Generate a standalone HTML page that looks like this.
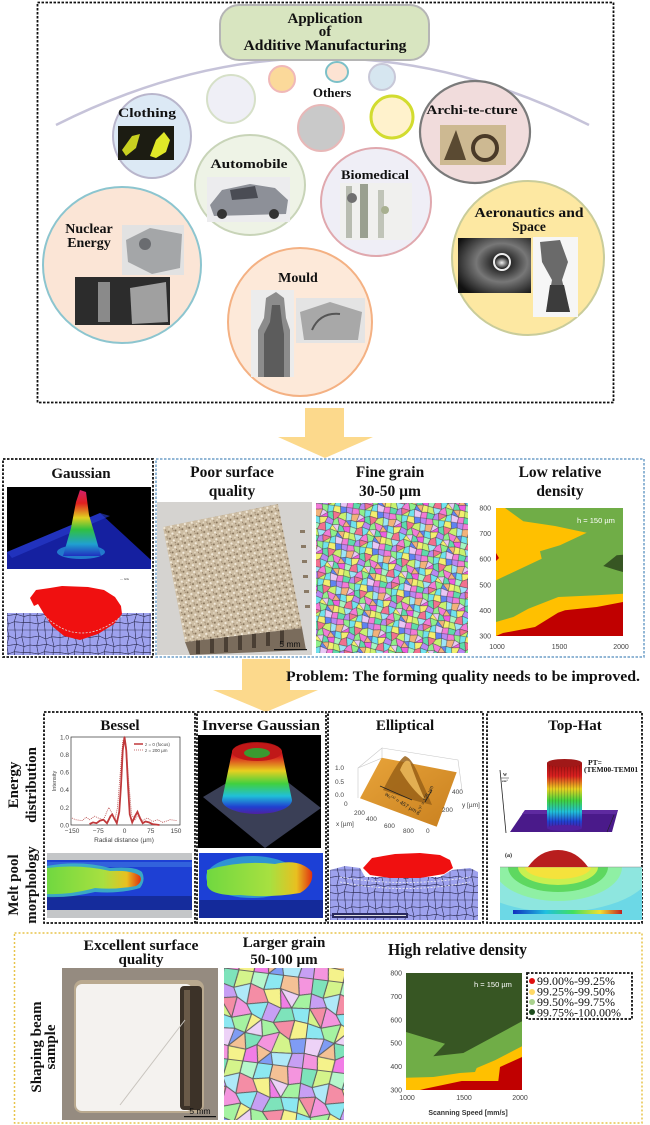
<!DOCTYPE html>
<html><head><meta charset="utf-8">
<style>
html,body{margin:0;padding:0;background:#fff;}
svg{display:block;}
.t{font-family:"Liberation Serif",serif;font-weight:bold;fill:#111;}
.s{font-family:"Liberation Sans",sans-serif;fill:#444;}
</style></head>
<body>
<svg width="650" height="1125" viewBox="0 0 650 1125" xmlns="http://www.w3.org/2000/svg">
<defs>
  <g id="gt" stroke="#333" stroke-width="0.6">
    <polygon points="0,0 10,0 12,8 0,10" fill="#f27ad6"/>
    <polygon points="10,0 20,0 21,12 12,8" fill="#8ef08a"/>
    <polygon points="20,0 30,0 29,9 21,12" fill="#6fe3ee"/>
    <polygon points="30,0 40,0 42,11 29,9" fill="#f3ef6e"/>
    <polygon points="40,0 50,0 51,8 42,11" fill="#5f83f2"/>
    <polygon points="50,0 60,0 60,10 51,8" fill="#b987f2"/>
    <polygon points="0,10 12,8 9,21 0,20" fill="#f2b27a"/>
    <polygon points="12,8 21,12 9,21" fill="#e9c7f5"/>
    <polygon points="21,12 22,19 9,21" fill="#ee5ce0"/>
    <polygon points="21,12 29,9 32,23 22,19" fill="#5ddcaa"/>
    <polygon points="29,9 42,11 38,18 32,23" fill="#f2708f"/>
    <polygon points="42,11 51,8 52,22 38,18" fill="#c9f26e"/>
    <polygon points="51,8 60,10 60,20 52,22" fill="#9be4f7"/>
    <polygon points="0,20 9,21 11,32 0,30" fill="#6fe3ee"/>
    <polygon points="9,21 22,19 19,28 11,32" fill="#f3ef6e"/>
    <polygon points="22,19 32,23 31,31 19,28" fill="#b987f2"/>
    <polygon points="32,23 38,18 42,29 31,31" fill="#8ef08a"/>
    <polygon points="38,18 52,22 48,32 42,29" fill="#f27ad6"/>
    <polygon points="52,22 60,20 60,30" fill="#5f83f2"/>
    <polygon points="52,22 60,30 48,32" fill="#f2b27a"/>
    <polygon points="0,30 11,32 8,41 0,40" fill="#a4f5c0"/>
    <polygon points="11,32 19,28 22,42 8,41" fill="#f2708f"/>
    <polygon points="19,28 31,31 28,38 22,42" fill="#6fe3ee"/>
    <polygon points="31,31 42,29 41,41" fill="#e9c7f5"/>
    <polygon points="31,31 41,41 28,38" fill="#f3ef6e"/>
    <polygon points="42,29 48,32 52,39 41,41" fill="#5ddcaa"/>
    <polygon points="48,32 60,30 60,40 52,39" fill="#ee5ce0"/>
    <polygon points="0,40 8,41 12,52 0,50" fill="#c9f26e"/>
    <polygon points="8,41 22,42 18,49 12,52" fill="#9be4f7"/>
    <polygon points="22,42 28,38 32,51 18,49" fill="#f27ad6"/>
    <polygon points="28,38 41,41 39,48 32,51" fill="#8ef08a"/>
    <polygon points="41,41 52,39 51,51" fill="#f2b27a"/>
    <polygon points="41,41 51,51 39,48" fill="#5f83f2"/>
    <polygon points="52,39 60,40 60,50 51,51" fill="#f3ef6e"/>
    <polygon points="0,50 12,52 10,60 0,60" fill="#5ddcaa"/>
    <polygon points="12,52 18,49 20,60 10,60" fill="#b987f2"/>
    <polygon points="18,49 32,51 20,60" fill="#f2708f"/>
    <polygon points="32,51 30,60 20,60" fill="#c9f26e"/>
    <polygon points="32,51 39,48 40,60 30,60" fill="#6fe3ee"/>
    <polygon points="39,48 51,51 50,60 40,60" fill="#e9c7f5"/>
    <polygon points="51,51 60,50 60,60 50,60" fill="#f27ad6"/>
  </g>
  <g id="gline" fill="none" stroke="#2a2a50" stroke-width="0.6">
    <polygon points="0,0 10,0 12,8 0,10"/><polygon points="10,0 20,0 21,12 12,8"/>
    <polygon points="20,0 30,0 29,9 21,12"/><polygon points="30,0 40,0 40,10 29,9"/>
    <polygon points="0,10 12,8 9,21 0,20"/><polygon points="12,8 21,12 22,19 9,21"/>
    <polygon points="21,12 29,9 32,22 22,19"/><polygon points="29,9 40,10 40,20 32,22"/>
    <polygon points="0,20 9,21 11,32 0,30"/><polygon points="9,21 22,19 19,29 11,32"/>
    <polygon points="22,19 32,22 31,30 19,29"/><polygon points="32,22 40,20 40,30 31,30"/>
    <polygon points="0,30 11,32 10,40 0,40"/><polygon points="11,32 19,29 20,40 10,40"/>
    <polygon points="19,29 31,30 30,40 20,40"/><polygon points="31,30 40,30 40,40 30,40"/>
  </g>
  <pattern id="gFine" patternUnits="userSpaceOnUse" width="60" height="60" patternTransform="translate(316,503) rotate(8) scale(0.62)">
    <use href="#gt"/>
  </pattern>
  <pattern id="gLarge" patternUnits="userSpaceOnUse" width="60" height="60" patternTransform="translate(224,968) rotate(97) scale(1.5)">
    <use href="#gt" opacity="0.8"/>
  </pattern>
  <pattern id="lav" patternUnits="userSpaceOnUse" width="40" height="40" patternTransform="scale(0.75)">
    <rect width="40" height="40" fill="#9ea2ee"/><use href="#gline"/>
  </pattern>
  <pattern id="speck" patternUnits="userSpaceOnUse" width="7" height="7" patternTransform="rotate(-11)">
    <rect width="7" height="7" fill="#cdbda3"/>
    <circle cx="1" cy="1.2" r="1" fill="#85725a"/>
    <circle cx="4.5" cy="3.6" r="1.1" fill="#f2eadb"/>
    <circle cx="5.8" cy="0.8" r="0.6" fill="#9a8468"/>
    <circle cx="2" cy="5.5" r="0.8" fill="#ece0cc"/>
    <circle cx="5.5" cy="6" r="0.6" fill="#8a7660"/>
  </pattern>
  <pattern id="stripes" patternUnits="userSpaceOnUse" width="3" height="10">
    <rect x="0" width="0.8" height="10" fill="rgba(0,0,0,0.18)"/>
  </pattern>
  <linearGradient id="rainbow" x1="0" y1="0" x2="0" y2="1">
    <stop offset="0" stop-color="#d2206a"/>
    <stop offset="0.2" stop-color="#e02020"/>
    <stop offset="0.42" stop-color="#e0d020"/>
    <stop offset="0.6" stop-color="#30c040"/>
    <stop offset="0.82" stop-color="#20a0d0"/>
    <stop offset="1" stop-color="#2030c0"/>
  </linearGradient>
  <linearGradient id="rainbow2" x1="0" y1="0" x2="0" y2="1">
    <stop offset="0" stop-color="#a01010"/>
    <stop offset="0.2" stop-color="#d82020"/>
    <stop offset="0.4" stop-color="#e8d020"/>
    <stop offset="0.58" stop-color="#40d040"/>
    <stop offset="0.75" stop-color="#20c0d8"/>
    <stop offset="0.9" stop-color="#2040d0"/>
    <stop offset="1" stop-color="#5020a0"/>
  </linearGradient>
  <linearGradient id="hbar" x1="0" y1="0" x2="1" y2="0">
    <stop offset="0" stop-color="#1030c0"/>
    <stop offset="0.3" stop-color="#20c0e0"/>
    <stop offset="0.55" stop-color="#40e060"/>
    <stop offset="0.8" stop-color="#f0e030"/>
    <stop offset="1" stop-color="#c02020"/>
  </linearGradient>
  <linearGradient id="blob" x1="0" y1="0" x2="1" y2="0">
    <stop offset="0" stop-color="#70d840"/>
    <stop offset="0.6" stop-color="#a8e040"/>
    <stop offset="0.85" stop-color="#e8c020"/>
    <stop offset="1" stop-color="#e03010"/>
  </linearGradient>
  <linearGradient id="plate" x1="0" y1="0" x2="1" y2="1">
    <stop offset="0" stop-color="#e8a43a"/>
    <stop offset="1" stop-color="#c9801f"/>
  </linearGradient>
  <radialGradient id="fan" cx="0.6" cy="0.45" r="0.7">
    <stop offset="0" stop-color="#f0f0f0"/>
    <stop offset="0.15" stop-color="#222"/>
    <stop offset="0.5" stop-color="#777"/>
    <stop offset="1" stop-color="#111"/>
  </radialGradient>
  <clipPath id="thclip"><rect x="500" y="867" width="142" height="53"/></clipPath>
</defs>

<!-- ===== SECTION 1 ===== -->
<rect x="37.5" y="2.5" width="576" height="400" fill="none" stroke="#111" stroke-width="1.8" stroke-dasharray="2.5,1.5"/>
<path d="M56,125 Q322,-9 589,125" fill="none" stroke="#c6c3d9" stroke-width="2.5"/>
<rect x="220" y="5" width="209" height="55" rx="19" fill="#d8e5c0" stroke="#b5b5b5" stroke-width="2"/>
<text class="t" x="325" y="23" font-size="15" text-anchor="middle">Application</text>
<text class="t" x="325" y="36" font-size="15" text-anchor="middle">of</text>
<text class="t" x="325" y="50" font-size="15" text-anchor="middle" textLength="163" lengthAdjust="spacingAndGlyphs">Additive Manufacturing</text>

<ellipse cx="231" cy="99" rx="24" ry="24" fill="#efeff6" stroke="#d6e0c8" stroke-width="2"/>
<ellipse cx="282" cy="79" rx="13" ry="13" fill="#fbd99a" stroke="#f0b8b8" stroke-width="2"/>
<ellipse cx="337" cy="72" rx="11" ry="10" fill="#fde3d3" stroke="#7cc0c8" stroke-width="2"/>
<ellipse cx="382" cy="77" rx="13" ry="13" fill="#d6e6f0" stroke="#c8c8d8" stroke-width="2"/>
<ellipse cx="321" cy="128" rx="23" ry="23" fill="#c9c9c9" stroke="#e8b8b8" stroke-width="2"/>
<ellipse cx="392" cy="117" rx="21" ry="21" fill="#fff2cc" stroke="#d2dc30" stroke-width="3"/>
<text class="t" x="332" y="97" font-size="13" text-anchor="middle">Others</text>

<ellipse cx="152" cy="136" rx="39" ry="42" fill="#dce9f5" stroke="#b9b6cc" stroke-width="2"/>
<text class="t" x="147" y="117" font-size="13" text-anchor="middle" textLength="58" lengthAdjust="spacingAndGlyphs">Clothing</text>
<rect x="118" y="126" width="56" height="34" fill="#1c1c12"/>
<polygon points="122,150 132,136 140,134 136,148 126,156" fill="#c8d020"/>
<polygon points="150,156 156,140 164,132 170,140 166,152 156,158" fill="#e0e828"/>

<ellipse cx="250" cy="185" rx="55" ry="50" fill="#eef3e6" stroke="#c8d4b8" stroke-width="2"/>
<text class="t" x="249" y="168" font-size="13" text-anchor="middle" textLength="77" lengthAdjust="spacingAndGlyphs">Automobile</text>
<rect x="207" y="177" width="83" height="45" fill="#ececee"/>
<path d="M210,205 L222,190 L250,184 L275,188 L288,200 L286,214 L214,216 Z" fill="#8d9098"/>
<path d="M230,190 L255,186 L258,198 L232,200 Z" fill="#4a4c54"/>
<circle cx="222" cy="214" r="5" fill="#333"/><circle cx="274" cy="214" r="5" fill="#333"/>

<ellipse cx="376" cy="202" rx="55" ry="54" fill="#efeef6" stroke="#e0a8ae" stroke-width="2"/>
<text class="t" x="375" y="179" font-size="13" text-anchor="middle" textLength="68" lengthAdjust="spacingAndGlyphs">Biomedical</text>
<rect x="340" y="183" width="72" height="57" fill="#f0f0ee"/>
<rect x="346" y="186" width="6" height="52" fill="#b8bcb0"/>
<rect x="360" y="184" width="8" height="54" fill="#9aa090"/>
<rect x="378" y="190" width="6" height="48" fill="#c0c4b8"/>
<circle cx="352" cy="198" r="5" fill="#707070"/>
<circle cx="385" cy="210" r="4" fill="#a8b090"/>

<ellipse cx="475" cy="132" rx="55" ry="51" fill="#f1dcdc" stroke="#7a7a7a" stroke-width="2.2"/>
<text class="t" x="472" y="114" font-size="13" text-anchor="middle" textLength="91" lengthAdjust="spacingAndGlyphs">Archi-te-cture</text>
<rect x="440" y="125" width="66" height="40" fill="#cdb992"/>
<polygon points="444,160 456,130 466,160" fill="#5a4a32"/>
<circle cx="485" cy="148" r="12" fill="none" stroke="#4a3a28" stroke-width="4"/>

<ellipse cx="122" cy="265" rx="79" ry="78" fill="#fbe5d6" stroke="#8cc5cf" stroke-width="2"/>
<text class="t" x="89" y="233" font-size="14" text-anchor="middle">Nuclear</text>
<text class="t" x="89" y="247" font-size="14" text-anchor="middle">Energy</text>
<rect x="122" y="225" width="62" height="50" fill="#e2e2e2"/>
<polygon points="126,240 150,228 182,234 180,268 152,274 128,262" fill="#a4a6a8"/>
<circle cx="145" cy="244" r="6" fill="#6a6c70"/>
<rect x="75" y="277" width="95" height="48" fill="#2c2c2c"/>
<rect x="98" y="282" width="12" height="40" fill="#8a8a8a"/>
<polygon points="130,288 166,282 168,322 132,324" fill="#a0a0a0"/>

<ellipse cx="300" cy="322" rx="72" ry="74" fill="#fde9d9" stroke="#f4b183" stroke-width="2"/>
<text class="t" x="298" y="282" font-size="14" text-anchor="middle">Mould</text>
<rect x="251" y="290" width="43" height="87" fill="#ececec"/>
<path d="M258,377 L258,330 L264,318 L266,298 L276,292 L284,298 L286,318 L290,330 L290,377 Z" fill="#8c8c8c"/>
<path d="M264,377 L264,334 L270,322 L272,305 L280,305 L282,322 L284,334 L284,377 Z" fill="#5c5c5c"/>
<rect x="296" y="298" width="69" height="45" fill="#e4e4e4"/>
<polygon points="300,312 330,302 362,312 358,340 304,340" fill="#a8a8a8"/>
<path d="M312,330 Q320,312 340,314" fill="none" stroke="#555" stroke-width="2"/>

<ellipse cx="528" cy="258" rx="76" ry="77" fill="#fde8a2" stroke="#c9cc9a" stroke-width="2"/>
<text class="t" x="529" y="217" font-size="13.5" text-anchor="middle" textLength="109" lengthAdjust="spacingAndGlyphs">Aeronautics and</text>
<text class="t" x="529" y="231" font-size="13.5" text-anchor="middle">Space</text>
<rect x="458" y="238" width="73" height="55" fill="url(#fan)"/>
<circle cx="502" cy="262" r="8" fill="none" stroke="#eee" stroke-width="2"/>
<rect x="533" y="237" width="45" height="80" fill="#f6f6f6"/>
<path d="M540,242 L560,240 L568,262 L562,280 L570,312 L546,312 L552,280 L542,262 Z" fill="#6a6a6a"/>
<path d="M550,285 L564,285 L570,312 L546,312 Z" fill="#3c3c3c"/>

<polygon points="305,408 344,408 344,437 373,437 325,458 278,437 305,437" fill="#fcd98c"/>

<!-- ===== SECTION 2 ===== -->
<rect x="3" y="459" width="150" height="198" fill="none" stroke="#111" stroke-width="1.8" stroke-dasharray="2.5,1.5"/>
<rect x="156" y="459" width="488" height="198" fill="none" stroke="#6f9fc8" stroke-width="1.5" stroke-dasharray="2.5,1.5"/>

<text class="t" x="81" y="478" font-size="15" text-anchor="middle">Gaussian</text>
<rect x="7" y="487" width="144" height="82" fill="#000"/>
<polygon points="7,552 100,513 151,560 151,569 7,569" fill="#1520a0"/>
<polygon points="7,552 100,513 110,516 12,558" fill="#2a40d0" opacity="0.6"/>
<ellipse cx="81" cy="552" rx="24" ry="7" fill="#28a0e0" opacity="0.7"/>
<polygon points="63,556 71,528 76,502 80,490 86,492 89,515 95,535 101,556" fill="url(#rainbow)"/>
<rect x="7" y="570" width="144" height="85" fill="#fff"/>
<rect x="7" y="613" width="144" height="42" fill="url(#lav)"/>
<path d="M30,598 L36,590 L50,588 L62,586 L88,587 L104,590 L115,597 L121,606 L122,614 L114,624 L98,634 L80,640 L64,636 L52,626 L44,614 L38,604 L34,606 Z" fill="#f01010"/>
<path d="M45,616 Q80,650 122,616" fill="none" stroke="#ddd" stroke-width="0.8" stroke-dasharray="2,1.5"/>
<text class="s" x="120" y="580" font-size="3">— Glls</text>

<text class="t" x="232" y="477" font-size="15.5" text-anchor="middle">Poor surface</text>
<text class="t" x="232" y="496" font-size="15.5" text-anchor="middle">quality</text>
<rect x="157" y="502" width="155" height="153" fill="#d5d3d0"/>
<polygon points="185,642 302,628 306,650 190,655" fill="#7a6c5c"/>
<g fill="#4a3f34">
  <rect x="196" y="640" width="4" height="14"/><rect x="210" y="638" width="4" height="15"/>
  <rect x="224" y="637" width="4" height="15"/><rect x="238" y="635" width="4" height="15"/>
  <rect x="252" y="633" width="4" height="15"/><rect x="266" y="632" width="4" height="14"/>
  <rect x="280" y="630" width="4" height="14"/>
</g>
<g fill="#8a7a66">
  <rect x="300" y="530" width="5" height="3"/><rect x="301" y="545" width="5" height="3"/>
  <rect x="302" y="560" width="5" height="3"/><rect x="303" y="575" width="5" height="3"/>
  <rect x="304" y="590" width="5" height="3"/><rect x="305" y="605" width="5" height="3"/>
</g>
<polygon points="163,527 278,504 302,628 185,642" fill="url(#speck)"/>
<text class="s" x="290" y="647" font-size="8.5" text-anchor="middle" style="fill:#111">5 mm</text>
<rect x="274" y="649" width="33" height="1.2" fill="#111"/>

<text class="t" x="390" y="477" font-size="15.5" text-anchor="middle">Fine grain</text>
<text class="t" x="390" y="496" font-size="15.5" text-anchor="middle">30-50 µm</text>
<rect x="316" y="503" width="152" height="150" fill="url(#gFine)"/>

<text class="t" x="560" y="477" font-size="15.5" text-anchor="middle">Low relative</text>
<text class="t" x="560" y="496" font-size="15.5" text-anchor="middle">density</text>
<rect x="496" y="508" width="127" height="128" fill="#70ad47"/>
<polygon points="496,508 505,508 523.3,521.3 555,526 586.7,532.7 560,545.3 540,551.3 541.7,558.7 496,580.3" fill="#ffc000"/>
<polygon points="496,622 513.3,617 528.3,608.7 558.3,597 596.7,595.3 623,593.7 623,636 496,636" fill="#ffc000"/>
<polygon points="496,636 503,633 535,627 558,612.7 565,610.3 596.7,607 623,602 623,636" fill="#c00000"/>
<polygon points="603.3,566 616.7,555.3 623,554.7 623,572 616.7,570.3" fill="#375623"/>
<polygon points="496,553 499,558 496,561" fill="#c00000"/>
<text class="s" x="596" y="523" font-size="7.5" text-anchor="middle" style="fill:#fff">h = 150 µm</text>
<g class="s" font-size="7" text-anchor="end">
  <text x="491" y="510.5">800</text><text x="491" y="536">700</text><text x="491" y="561.7">600</text>
  <text x="491" y="587.3">500</text><text x="491" y="613">400</text><text x="491" y="638.5">300</text>
</g>
<g class="s" font-size="7" text-anchor="middle">
  <text x="497" y="649">1000</text><text x="559.5" y="649">1500</text><text x="621" y="649">2000</text>
</g>

<polygon points="242,659 290,659 290,690 318,690 266,712 213,690 242,690" fill="#fcd98c"/>
<text class="t" x="286" y="681" font-size="15" textLength="354" lengthAdjust="spacingAndGlyphs">Problem: The forming quality needs to be improved.</text>

<!-- ===== SECTION 3 ===== -->
<g fill="none" stroke="#111" stroke-width="1.8" stroke-dasharray="2.5,1.5">
  <rect x="44" y="712" width="151" height="211"/>
  <rect x="197" y="712" width="129" height="211"/>
  <rect x="328" y="712" width="155" height="211"/>
  <rect x="487" y="712" width="155" height="211"/>
</g>
<text class="t" font-size="15" text-anchor="middle" transform="translate(18,785) rotate(-90)">Energy</text>
<text class="t" font-size="15" text-anchor="middle" transform="translate(36,785) rotate(-90)">distribution</text>
<text class="t" font-size="15" text-anchor="middle" transform="translate(18,885) rotate(-90)">Melt pool</text>
<text class="t" font-size="15" text-anchor="middle" transform="translate(36,885) rotate(-90)">morphology</text>

<text class="t" x="120" y="730" font-size="15" text-anchor="middle">Bessel</text>
<text class="t" x="261" y="730" font-size="15" text-anchor="middle" textLength="118" lengthAdjust="spacingAndGlyphs">Inverse Gaussian</text>
<text class="t" x="405" y="730" font-size="15" text-anchor="middle">Elliptical</text>
<text class="t" x="575" y="730" font-size="15" text-anchor="middle">Top-Hat</text>

<rect x="71" y="737" width="109" height="88" fill="#fff" stroke="#333" stroke-width="0.7"/>
<polyline fill="none" stroke="#b84848" stroke-width="0.8" stroke-dasharray="1,1" points="72,818 75.5,819.7 82.5,820.6 86,817.1 89.5,819.7 94.75,816.2 98.25,818 103.5,819.7 108.75,807.4 111.2,811.8 114.7,820.6 117.5,807.4 120.3,772.2 122.75,741.4 124.5,737 126.25,745.8 128.7,781 131.5,814.4 135,819.7 138.5,813.6 142,820.6 147.25,818 152.5,821.5 157.75,819.7 163,822.4 170,819.7 177,820.6"/>
<polyline fill="none" stroke="#c0393b" stroke-width="1.8" points="89.5,824.1 93,822.4 96.5,823.2 100,820.6 103.5,819.7 107,823.2 110.5,816.2 112.25,814.4 114,818 116.8,823.2 119.25,811.8 121,785.4 122.75,750.2 124.5,737 126.25,750.2 128,785.4 129.75,814.4 132.2,822.4 135,816.2 137.45,811.8 139.9,818 142.7,823.2 145.5,821.5 149,822.4 152.5,824.1 159.5,825"/>
<line x1="134" y1="744" x2="143" y2="744" stroke="#c0393b" stroke-width="1.5"/>
<text class="s" x="145" y="746" font-size="4.5">z = 0 (focus)</text>
<line x1="134" y1="750" x2="143" y2="750" stroke="#b84848" stroke-width="0.8" stroke-dasharray="1,1"/>
<text class="s" x="145" y="752" font-size="4.5">z = 200 µm</text>
<g class="s" font-size="6.5" text-anchor="end">
  <text x="69" y="739.5">1.0</text><text x="69" y="757">0.8</text><text x="69" y="774.6">0.6</text>
  <text x="69" y="792.2">0.4</text><text x="69" y="809.8">0.2</text><text x="69" y="827.4">0.0</text>
</g>
<text class="s" font-size="5.5" text-anchor="middle" transform="translate(56,781) rotate(-90)">Intensity</text>
<g class="s" font-size="6.5" text-anchor="middle">
  <text x="72" y="833">−150</text><text x="98.25" y="833">−75</text><text x="124.5" y="833">0</text>
  <text x="150.75" y="833">75</text><text x="176" y="833">150</text>
</g>
<text class="s" x="124" y="842" font-size="6.5" text-anchor="middle">Radial distance (µm)</text>

<rect x="47" y="853" width="145" height="65" fill="#c4c6c8"/>
<rect x="47" y="860" width="145" height="36" fill="#1e40d4"/>
<rect x="47" y="896" width="145" height="14" fill="#152c9c"/>
<rect x="47" y="862" width="145" height="5" fill="#3a70e0" opacity="0.7"/>
<path d="M47,866 Q80,860 110,868 Q135,866 142,872 Q146,880 140,888 Q120,894 95,892 Q70,898 47,897 Z" fill="#40c0c0" opacity="0.8"/>
<path d="M47,868 Q80,864 110,871 Q133,870 140,876 Q143,882 136,886 Q115,890 95,888 Q70,895 47,894 Z" fill="url(#blob)"/>

<rect x="198" y="735" width="123" height="113" fill="#000"/>
<polygon points="203,797 262,762 321,808 265,848" fill="#3a3f56"/>
<path d="M222,800 L232,752 A25,10 0 0 1 282,752 L292,800 A35,14 0 0 1 222,800 Z" fill="url(#rainbow2)"/>
<ellipse cx="257" cy="752" rx="25" ry="9" fill="#c01818"/>
<ellipse cx="257" cy="753" rx="13" ry="5" fill="#3a9a30"/>

<rect x="199" y="853" width="124" height="65" fill="#1c40d6"/>
<rect x="199" y="900" width="124" height="18" fill="#142a9a"/>
<ellipse cx="252" cy="877" rx="46" ry="21" fill="#38b8d0" opacity="0.7"/>
<path d="M207,870 Q240,860 275,864 Q300,858 312,872 Q314,885 300,893 Q270,898 240,895 Q210,896 207,885 Z" fill="url(#blob)"/>

<g stroke="#c8c8c8" stroke-width="0.6" fill="none">
  <polyline points="358,798 358,768 382,748 382,758"/>
  <polyline points="382,748 458,760 462,790"/>
  <line x1="358" y1="768" x2="382" y2="758"/>
</g>
<polygon points="381.7,757.7 456.7,772.3 436.7,826.7 360,798.3" fill="url(#plate)"/>
<path d="M383,790 Q398,760 405,756 Q412,758 420,778 Q428,795 432,805 Q410,800 383,790 Z" fill="#9a6218" opacity="0.85"/>
<path d="M400,770 Q405,757 410,762 Q416,780 425,800 Q412,790 400,770 Z" fill="#f3c060" opacity="0.8"/>
<line x1="380" y1="786" x2="412" y2="800" stroke="#222" stroke-width="0.8"/>
<line x1="425" y1="802" x2="432" y2="790" stroke="#222" stroke-width="0.8"/>
<text x="400" y="804" font-size="5.5" font-family="Liberation Sans,sans-serif" fill="#222" text-anchor="middle" transform="rotate(30,400,804)">w₀⁽ˣ⁾ = 457 µm</text>
<text x="426" y="801" font-size="5" font-family="Liberation Sans,sans-serif" fill="#222" text-anchor="middle" transform="rotate(-62,426,801)">w₀⁽ʸ⁾ = 125 µm</text>
<g class="s" font-size="6.5">
  <text x="335" y="770">1.0</text><text x="335" y="784">0.5</text><text x="335" y="797">0.0</text>
  <text x="344" y="806">0</text><text x="354" y="815">200</text><text x="366" y="821">400</text>
  <text x="384" y="828">600</text><text x="403" y="833">800</text>
  <text x="336" y="826">x [µm]</text><text x="426" y="833">0</text>
  <text x="442" y="812">200</text><text x="452" y="794">400</text><text x="462" y="807">y [µm]</text>
</g>

<rect x="330" y="850" width="150" height="70" fill="#fff"/>
<path d="M330,870 L345,866 L360,868 L365,877 L440,877 L452,870 L470,868 L478,872 L478,920 L330,920 Z" fill="url(#lav)"/>
<path d="M363,868 L372,858 L395,854 L420,853 L440,855 L450,860 L453,868 L444,874 L420,878 L390,878 L370,875 Z" fill="#f01010"/>
<path d="M340,882 Q405,895 470,882" fill="none" stroke="#eee" stroke-width="0.8" stroke-dasharray="2,1.5"/>
<path d="M340,877 Q405,888 470,877" fill="none" stroke="#eee" stroke-width="0.8" stroke-dasharray="2,1.5"/>
<rect x="332" y="913" width="76" height="5" fill="#2a2a60"/>
<rect x="334" y="915" width="72" height="1" fill="#ddd"/>

<line x1="500" y1="770" x2="506" y2="833" stroke="#222" stroke-width="0.8"/>
<text x="503" y="776" font-size="4" font-family="Liberation Serif,serif" font-weight="bold" fill="#222">W</text>
<line x1="501" y1="778" x2="509" y2="778" stroke="#222" stroke-width="0.5"/>
<text x="502" y="782" font-size="3.5" font-family="Liberation Serif,serif" font-weight="bold" fill="#222">cm²</text>
<polygon points="510,832 525,810 618,810 612,832" fill="#4a1a8a"/>
<polygon points="525,810 618,810 616,814 522,814" fill="#5e2aa0"/>
<rect x="547" y="763" width="35" height="65" fill="url(#rainbow2)"/>
<rect x="547" y="763" width="35" height="65" fill="url(#stripes)"/>
<ellipse cx="564.5" cy="828" rx="17.5" ry="3" fill="#5020a0"/>
<ellipse cx="564.5" cy="763" rx="17.5" ry="4" fill="#a01818"/>
<text class="t" x="588" y="765" font-size="7.5">PT=</text>
<text class="t" x="584" y="772" font-size="7.5">(TEM00-TEM01</text>
<line x1="614" y1="815" x2="607" y2="832" stroke="#222" stroke-width="0.6"/>

<text x="505" y="857" font-size="6" font-family="Liberation Serif,serif" font-weight="bold" fill="#222">(a)</text>
<rect x="500" y="867" width="142" height="53" fill="#6cd8e6"/>
<g clip-path="url(#thclip)">
  <ellipse cx="558" cy="867" rx="95" ry="45" fill="#8ee6df"/>
  <ellipse cx="558" cy="867" rx="64" ry="34" fill="#8ff0a4"/>
  <ellipse cx="558" cy="867" rx="50" ry="25" fill="#5ed860"/>
  <ellipse cx="558" cy="867" rx="40" ry="18" fill="#c8f050"/>
  <ellipse cx="558" cy="867" rx="33" ry="12" fill="#f5e23c"/>
</g>
<line x1="500" y1="867" x2="642" y2="867" stroke="#888" stroke-width="0.5"/>
<path d="M528,867 Q540,850 558,850 Q576,850 588,867 Z" fill="#b81e1e"/>
<rect x="513" y="910" width="109" height="4" fill="url(#hbar)"/>

<!-- ===== SECTION 4 ===== -->
<rect x="14.5" y="933" width="627.5" height="190" fill="none" stroke="#e8c44a" stroke-width="1.5" stroke-dasharray="2,2"/>
<text class="t" font-size="15" text-anchor="middle" transform="translate(41,1047) rotate(-90)">Shaping beam</text>
<text class="t" font-size="15" text-anchor="middle" transform="translate(55,1047) rotate(-90)">sample</text>

<text class="t" x="141" y="950" font-size="15" text-anchor="middle" textLength="115" lengthAdjust="spacingAndGlyphs">Excellent surface</text>
<text class="t" x="141" y="964" font-size="15" text-anchor="middle">quality</text>
<rect x="62" y="968" width="156" height="152" fill="#958b80"/>
<rect x="74" y="980" width="130" height="133" rx="8" fill="#b9a98f"/>
<rect x="76" y="984" width="116" height="127" rx="6" fill="#f4f2ef"/>
<rect x="180" y="986" width="22" height="124" rx="4" fill="#3c3228"/>
<rect x="184" y="990" width="6" height="116" fill="#6a5a48"/>
<line x1="120" y1="1105" x2="185" y2="1020" stroke="#c8c4be" stroke-width="1"/>
<text class="s" x="200" y="1114" font-size="8.5" text-anchor="middle" style="fill:#111">5 mm</text>
<rect x="184" y="1116" width="32" height="1.2" fill="#111"/>

<text class="t" x="284" y="947" font-size="15" text-anchor="middle">Larger grain</text>
<text class="t" x="284" y="964" font-size="15" text-anchor="middle">50-100 µm</text>
<rect x="224" y="968" width="120" height="152" fill="url(#gLarge)"/>

<text class="t" x="388" y="955" font-size="17" textLength="139" lengthAdjust="spacingAndGlyphs">High relative density</text>
<rect x="406" y="973" width="116" height="117" fill="#375623"/>
<polygon points="406,1032 445,1043.7 433.3,1056.3 463.3,1053 522,1021.3 522,1090 406,1090" fill="#70ad47"/>
<polygon points="406,1077.7 433.3,1077 460,1073 475,1072 476.7,1068 495,1060.3 522,1046.3 522,1090 406,1090" fill="#ffc000"/>
<polygon points="420,1090 425,1088.7 461.7,1081 498.3,1081 500,1067 522,1057 522,1090" fill="#c00000"/>
<text class="s" x="493" y="987" font-size="7.5" text-anchor="middle" style="fill:#fff">h = 150 µm</text>
<g class="s" font-size="7" text-anchor="end">
  <text x="402" y="975.5">800</text><text x="402" y="999">700</text><text x="402" y="1022.3">600</text>
  <text x="402" y="1045.7">500</text><text x="402" y="1069">400</text><text x="402" y="1092.5">300</text>
</g>
<g class="s" font-size="7" text-anchor="middle">
  <text x="407" y="1100">1000</text><text x="464" y="1100">1500</text><text x="520" y="1100">2000</text>
</g>
<text x="468" y="1115" font-size="7" font-weight="bold" font-family="Liberation Sans,sans-serif" fill="#333" text-anchor="middle">Scanning Speed [mm/s]</text>

<rect x="527" y="973" width="105" height="46" fill="#fff" stroke="#111" stroke-width="1.8" stroke-dasharray="2.5,1.5"/>
<circle cx="532" cy="981" r="3" fill="#e01010"/>
<circle cx="532" cy="992" r="3" fill="#ffd966"/>
<circle cx="532" cy="1002" r="3" fill="#a9d18e"/>
<circle cx="532" cy="1012" r="3" fill="#1e4d1e"/>
<g font-family="Liberation Serif,serif" font-size="12" fill="#111">
  <text x="537" y="985">99.00%-99.25%</text>
  <text x="537" y="995.5">99.25%-99.50%</text>
  <text x="537" y="1006">99.50%-99.75%</text>
  <text x="537" y="1016.5">99.75%-100.00%</text>
</g>
</svg>
</body></html>
